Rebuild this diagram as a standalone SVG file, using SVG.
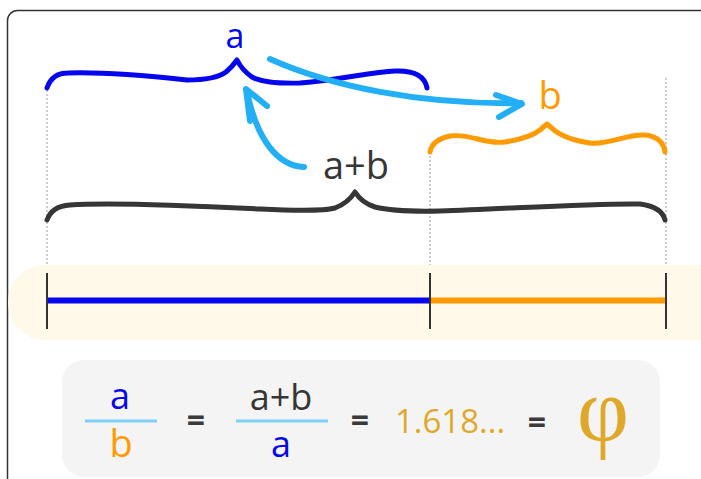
<svg xmlns="http://www.w3.org/2000/svg" width="701" height="479" viewBox="0 0 701 479">
<style>
.t{font-family:"Open Sans","Noto Sans","Liberation Sans",sans-serif;text-anchor:middle;font-weight:500}
.brace{fill:none;stroke-width:5;stroke-linecap:round;stroke-linejoin:round}
.dot{stroke:#9a9a9a;stroke-width:1;stroke-dasharray:2,2;fill:none}
.arr{fill:none;stroke:#22aff5;stroke-width:6;stroke-linecap:round;stroke-linejoin:round}
.frac{stroke:#7ed0f6;stroke-width:3}
.eq{fill:#3a3a3a;font-weight:bold}
</style>
<rect x="7.5" y="10.5" width="740" height="520" rx="10" fill="#fff" stroke="#333" stroke-width="1.5"/>
<g id="guides">
<line class="dot" x1="47" y1="90" x2="47" y2="268"/>
<line class="dot" x1="430" y1="152" x2="430" y2="268"/>
<line class="dot" x1="666" y1="78" x2="666" y2="268"/>
</g>
<g id="brace-a">
<path class="brace" stroke="#0505ee" d="M47,88 Q52,73 68,73 C100,72 150,76 187,80 Q215,80 226,72 Q232,67 237,60 Q242,70 252,77 Q265,84 300,83 C340,80 370,72 395,71 Q424,70 427,88"/>
<text class="t" x="235" y="48" font-size="34" fill="#0505ee">a</text>
</g>
<g id="brace-b">
<path class="brace" stroke="#ff9a00" d="M430,152 Q432,140 450,136 C470,133 485,145 505,142 Q530,138 540,130 L547,124 L554,130 Q565,139 590,143 C610,145 625,134 645,135 Q663,137 665,152"/>
<text class="t" x="550" y="109" font-size="38" fill="#ff9a00">b</text>
</g>
<g id="brace-ab">
<path class="brace" stroke="#363636" d="M47,220 Q52,206 70,205 C110,202 200,206 260,209 Q320,212 335,208 Q348,203 355,192 Q362,203 375,207 Q395,212 440,211 C520,208 600,203 640,204 Q662,207 665,220"/>
<text class="t" x="356" y="179" font-size="38" fill="#363636">a+b</text>
</g>
<g id="connectors">
<path class="arr" d="M270,59 C330,86 420,105 521,103"/>
<path class="arr" d="M496,95 L522,104 L499,117"/>
<path class="arr" d="M304,167 C278,166 257,140 247,92"/>
<path class="arr" d="M250,121 L246,89 L267,106"/>
</g>
<g id="segment">
<rect x="8" y="265" width="730" height="75" rx="37" fill="#fef9e8"/>
<line x1="47" y1="300.5" x2="430" y2="300.5" stroke="#0505ee" stroke-width="6"/>
<line x1="430" y1="300.5" x2="666" y2="300.5" stroke="#ff9a00" stroke-width="6"/>
<line x1="47" y1="273" x2="47" y2="329" stroke="#333" stroke-width="2"/>
<line x1="430" y1="273" x2="430" y2="329" stroke="#333" stroke-width="2"/>
<line x1="666" y1="273" x2="666" y2="329" stroke="#333" stroke-width="2"/>
</g>
<g id="formula">
<rect x="62" y="360" width="598" height="117" rx="22" fill="#f4f4f4"/>
<text class="t" x="120" y="409" font-size="36" fill="#0505ee">a</text>
<line class="frac" x1="85" y1="421" x2="157" y2="421"/>
<text class="t" x="121" y="457" font-size="38" fill="#ff9a00">b</text>
<text class="t eq" x="196" y="432" font-size="32">=</text>
<text class="t" x="281" y="410" font-size="36" fill="#363636">a+b</text>
<line class="frac" x1="236" y1="421" x2="328" y2="421"/>
<text class="t" x="281" y="457" font-size="36" fill="#0505ee">a</text>
<text class="t eq" x="360" y="432" font-size="32">=</text>
<text class="t" x="450" y="433" font-size="33" fill="#e0a82b">1.618...</text>
<text class="t eq" x="537" y="434" font-size="32">=</text>
<text x="603" y="441" font-size="90" fill="#e0a82b" text-anchor="middle" font-family="'Liberation Serif','DejaVu Serif',serif">φ</text>
</g>
</svg>
